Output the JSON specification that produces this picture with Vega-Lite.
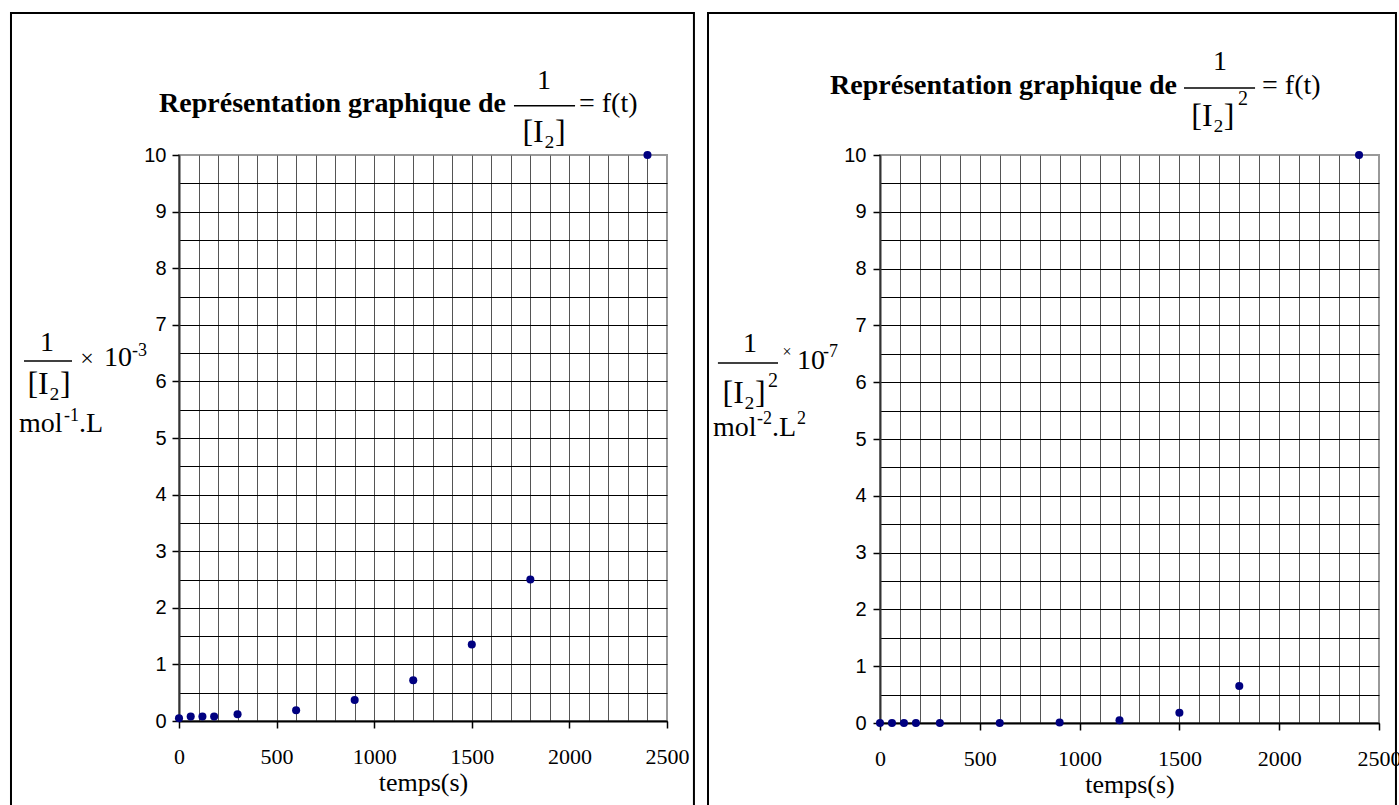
{
  "$schema": "https://vega.github.io/schema/vega-lite/v6.json",
  "padding": {"left": 8, "top": 10, "right": 0, "bottom": 0},
  "spacing": 10,
  "datasets": {
    "inv": [
      {"t": 0, "v": 0.05}, {"t": 60, "v": 0.08}, {"t": 120, "v": 0.08}, {"t": 180, "v": 0.08},
      {"t": 300, "v": 0.12}, {"t": 600, "v": 0.19}, {"t": 900, "v": 0.37}, {"t": 1200, "v": 0.72},
      {"t": 1500, "v": 1.35}, {"t": 1800, "v": 2.5}, {"t": 2400, "v": 10}
    ],
    "inv2": [
      {"t": 0, "v": 0.0}, {"t": 60, "v": 0.0}, {"t": 120, "v": 0.0}, {"t": 180, "v": 0.0},
      {"t": 300, "v": 0.0}, {"t": 600, "v": 0.0}, {"t": 900, "v": 0.01}, {"t": 1200, "v": 0.05},
      {"t": 1500, "v": 0.18}, {"t": 1800, "v": 0.65}, {"t": 2400, "v": 10}
    ]
  },
  "config": {
    "view": {"stroke": "#999999", "strokeWidth": 2},
    "axis": {"labelColor": "black", "tickColor": "black", "domainColor": "black", "domainWidth": 2, "tickWidth": 1.5, "tickSize": 7, "gridWidth": 1, "titleColor": "black", "labelOverlap": false},
    "text": {"font": "Liberation Serif", "color": "black"}
  },
  "hconcat": [
    {
      "width": 488,
      "height": 566,
      "resolve": {"axis": {"x": "independent", "y": "independent"}},
      "layer": [
        {
          "data": {"values": [{}]},
          "mark": {"type": "rect", "fillOpacity": 0, "stroke": "black", "strokeWidth": 2, "clip": false},
          "encoding": {"x": {"datum": -860.7, "type": "quantitative", "axis": null}, "x2": {"datum": 2638}, "y": {"datum": 12.509, "type": "quantitative", "axis": null}, "y2": {"datum": -1.8}}
        },
        {
          "data": {"values": [{}]},
          "mark": {"type": "text", "text": "Représentation graphique de", "fontWeight": "bold", "fontSize": 28, "align": "right", "baseline": "middle", "clip": false},
          "encoding": {"x": {"datum": 1675, "type": "quantitative", "axis": null}, "y": {"datum": 10.9, "type": "quantitative", "axis": null}}
        },
        {
          "data": {"values": [{}]},
          "mark": {"type": "text", "text": "1", "fontSize": 28, "align": "center", "baseline": "middle", "clip": false},
          "encoding": {"x": {"datum": 1870, "type": "quantitative", "axis": null}, "y": {"datum": 11.31, "type": "quantitative", "axis": null}}
        },
        {
          "data": {"values": [{}]},
          "mark": {"type": "rule", "color": "black", "strokeWidth": 1.5, "clip": false},
          "encoding": {"x": {"datum": 1716, "type": "quantitative", "axis": null}, "x2": {"datum": 2029}, "y": {"datum": 10.87, "type": "quantitative", "axis": null}}
        },
        {
          "data": {"values": [{}]},
          "mark": {"type": "text", "text": "[I₂]", "fontSize": 32, "align": "center", "baseline": "middle", "clip": false},
          "encoding": {"x": {"datum": 1870, "type": "quantitative", "axis": null}, "y": {"datum": 10.41, "type": "quantitative", "axis": null}}
        },
        {
          "data": {"values": [{}]},
          "mark": {"type": "text", "text": "= f(t)", "fontSize": 28, "align": "left", "baseline": "middle", "clip": false},
          "encoding": {"x": {"datum": 2049, "type": "quantitative", "axis": null}, "y": {"datum": 10.9, "type": "quantitative", "axis": null}}
        },
        {
          "data": {"values": [{}]},
          "mark": {"type": "text", "text": "1", "fontSize": 28, "align": "center", "baseline": "middle", "clip": false},
          "encoding": {"x": {"datum": -676, "type": "quantitative", "axis": null}, "y": {"datum": 6.68, "type": "quantitative", "axis": null}}
        },
        {
          "data": {"values": [{}]},
          "mark": {"type": "rule", "color": "black", "strokeWidth": 1.5, "clip": false},
          "encoding": {"x": {"datum": -794, "type": "quantitative", "axis": null}, "x2": {"datum": -548}, "y": {"datum": 6.36, "type": "quantitative", "axis": null}}
        },
        {
          "data": {"values": [{}]},
          "mark": {"type": "text", "text": "[I₂]", "fontSize": 32, "align": "center", "baseline": "middle", "clip": false},
          "encoding": {"x": {"datum": -666, "type": "quantitative", "axis": null}, "y": {"datum": 5.95, "type": "quantitative", "axis": null}}
        },
        {
          "data": {"values": [{}]},
          "mark": {"type": "text", "text": "×", "fontSize": 24, "align": "center", "baseline": "middle", "clip": false},
          "encoding": {"x": {"datum": -471, "type": "quantitative", "axis": null}, "y": {"datum": 6.4, "type": "quantitative", "axis": null}}
        },
        {
          "data": {"values": [{}]},
          "mark": {"type": "text", "text": "10", "fontSize": 28, "align": "left", "baseline": "middle", "clip": false},
          "encoding": {"x": {"datum": -384, "type": "quantitative", "axis": null}, "y": {"datum": 6.41, "type": "quantitative", "axis": null}}
        },
        {
          "data": {"values": [{}]},
          "mark": {"type": "text", "text": "-3", "fontSize": 18, "align": "left", "baseline": "middle", "clip": false},
          "encoding": {"x": {"datum": -241, "type": "quantitative", "axis": null}, "y": {"datum": 6.54, "type": "quantitative", "axis": null}}
        },
        {
          "data": {"values": [{}]},
          "mark": {"type": "text", "text": "mol", "fontSize": 28, "align": "left", "baseline": "middle", "clip": false},
          "encoding": {"x": {"datum": -820, "type": "quantitative", "axis": null}, "y": {"datum": 5.25, "type": "quantitative", "axis": null}}
        },
        {
          "data": {"values": [{}]},
          "mark": {"type": "text", "text": "-1", "fontSize": 18, "align": "left", "baseline": "middle", "clip": false},
          "encoding": {"x": {"datum": -589, "type": "quantitative", "axis": null}, "y": {"datum": 5.39, "type": "quantitative", "axis": null}}
        },
        {
          "data": {"values": [{}]},
          "mark": {"type": "text", "text": ".L", "fontSize": 28, "align": "left", "baseline": "middle", "clip": false},
          "encoding": {"x": {"datum": -512, "type": "quantitative", "axis": null}, "y": {"datum": 5.25, "type": "quantitative", "axis": null}}
        },
        {
          "data": {"name": "inv"},
          "mark": {"type": "circle", "color": "#000080", "size": 65, "opacity": 1, "clip": false},
          "encoding": {
            "x": {"field": "t", "type": "quantitative", "scale": {"domain": [0, 2500], "nice": false, "zero": false},
              "axis": {"orient": "bottom", "tickCount": 60, "values": [0,100,200,300,400,500,600,700,800,900,1000,1100,1200,1300,1400,1500,1600,1700,1800,1900,2000,2100,2200,2300,2400,2500],
                "format": "d", "labelExpr": "datum.value % 500 === 0 ? datum.label : ''", "labelFlush": false,
                "labelFont": "Liberation Serif", "labelFontSize": 22, "labelPadding": 18,
                "tickOpacity": {"condition": {"test": "datum.value % 500 === 0", "value": 1}, "value": 0},
                "grid": true, "gridColor": "#555555",
                "gridOpacity": {"condition": {"test": "datum.value === 2500", "value": 0}, "value": 1},
                "title": "temps(s)", "titleFont": "Liberation Serif", "titleFontSize": 26, "titleFontWeight": "normal", "titlePadding": 2}},
            "y": {"field": "v", "type": "quantitative", "scale": {"domain": [0, 10], "nice": false},
              "axis": {"orient": "left", "tickCount": 60, "tickMinStep": 0.5, "values": [0,0.5,1,1.5,2,2.5,3,3.5,4,4.5,5,5.5,6,6.5,7,7.5,8,8.5,9,9.5,10],
                "labelExpr": "datum.value % 1 === 0 ? format(datum.value, 'd') : ''",
                "labelFont": "Liberation Sans", "labelFontSize": 20, "labelPadding": 6,
                "tickOpacity": {"condition": {"test": "datum.value % 1 === 0", "value": 1}, "value": 0},
                "grid": true, "gridColor": "black",
                "gridOpacity": {"condition": {"test": "datum.value === 10", "value": 0}, "value": 1},
                "domainColor": "#333333", "title": null}}
          }
        }
      ]
    },
    {
      "width": 499,
      "height": 568,
      "resolve": {"axis": {"x": "independent", "y": "independent"}},
      "layer": [
        {
          "data": {"values": [{}]},
          "mark": {"type": "rect", "fillOpacity": 0, "stroke": "black", "strokeWidth": 2, "clip": false},
          "encoding": {"x": {"datum": -861.7, "type": "quantitative", "axis": null}, "x2": {"datum": 2585}, "y": {"datum": 12.5, "type": "quantitative", "axis": null}, "y2": {"datum": -1.8}}
        },
        {
          "data": {"values": [{}]},
          "mark": {"type": "text", "text": "Représentation graphique de", "fontWeight": "bold", "fontSize": 28, "align": "right", "baseline": "middle", "clip": false},
          "encoding": {"x": {"datum": 1488, "type": "quantitative", "axis": null}, "y": {"datum": 11.21, "type": "quantitative", "axis": null}}
        },
        {
          "data": {"values": [{}]},
          "mark": {"type": "text", "text": "1", "fontSize": 28, "align": "center", "baseline": "middle", "clip": false},
          "encoding": {"x": {"datum": 1703, "type": "quantitative", "axis": null}, "y": {"datum": 11.64, "type": "quantitative", "axis": null}}
        },
        {
          "data": {"values": [{}]},
          "mark": {"type": "rule", "color": "black", "strokeWidth": 1.5, "clip": false},
          "encoding": {"x": {"datum": 1523, "type": "quantitative", "axis": null}, "x2": {"datum": 1879}, "y": {"datum": 11.18, "type": "quantitative", "axis": null}}
        },
        {
          "data": {"values": [{}]},
          "mark": {"type": "text", "text": "[I₂]", "fontSize": 32, "align": "center", "baseline": "middle", "clip": false},
          "encoding": {"x": {"datum": 1668, "type": "quantitative", "axis": null}, "y": {"datum": 10.69, "type": "quantitative", "axis": null}}
        },
        {
          "data": {"values": [{}]},
          "mark": {"type": "text", "text": "2", "fontSize": 20, "align": "left", "baseline": "middle", "clip": false},
          "encoding": {"x": {"datum": 1794, "type": "quantitative", "axis": null}, "y": {"datum": 10.99, "type": "quantitative", "axis": null}}
        },
        {
          "data": {"values": [{}]},
          "mark": {"type": "text", "text": "= f(t)", "fontSize": 28, "align": "left", "baseline": "middle", "clip": false},
          "encoding": {"x": {"datum": 1914, "type": "quantitative", "axis": null}, "y": {"datum": 11.21, "type": "quantitative", "axis": null}}
        },
        {
          "data": {"values": [{}]},
          "mark": {"type": "text", "text": "1", "fontSize": 28, "align": "center", "baseline": "middle", "clip": false},
          "encoding": {"x": {"datum": -651, "type": "quantitative", "axis": null}, "y": {"datum": 6.67, "type": "quantitative", "axis": null}}
        },
        {
          "data": {"values": [{}]},
          "mark": {"type": "rule", "color": "black", "strokeWidth": 1.5, "clip": false},
          "encoding": {"x": {"datum": -812, "type": "quantitative", "axis": null}, "x2": {"datum": -511}, "y": {"datum": 6.34, "type": "quantitative", "axis": null}}
        },
        {
          "data": {"values": [{}]},
          "mark": {"type": "text", "text": "[I₂]", "fontSize": 32, "align": "center", "baseline": "middle", "clip": false},
          "encoding": {"x": {"datum": -681, "type": "quantitative", "axis": null}, "y": {"datum": 5.81, "type": "quantitative", "axis": null}}
        },
        {
          "data": {"values": [{}]},
          "mark": {"type": "text", "text": "2", "fontSize": 20, "align": "left", "baseline": "middle", "clip": false},
          "encoding": {"x": {"datum": -561, "type": "quantitative", "axis": null}, "y": {"datum": 6.02, "type": "quantitative", "axis": null}}
        },
        {
          "data": {"values": [{}]},
          "mark": {"type": "text", "text": "×", "fontSize": 16, "align": "center", "baseline": "middle", "clip": false},
          "encoding": {"x": {"datum": -466, "type": "quantitative", "axis": null}, "y": {"datum": 6.53, "type": "quantitative", "axis": null}}
        },
        {
          "data": {"values": [{}]},
          "mark": {"type": "text", "text": "10", "fontSize": 28, "align": "left", "baseline": "middle", "clip": false},
          "encoding": {"x": {"datum": -416, "type": "quantitative", "axis": null}, "y": {"datum": 6.37, "type": "quantitative", "axis": null}}
        },
        {
          "data": {"values": [{}]},
          "mark": {"type": "text", "text": "-7", "fontSize": 18, "align": "left", "baseline": "middle", "clip": false},
          "encoding": {"x": {"datum": -286, "type": "quantitative", "axis": null}, "y": {"datum": 6.53, "type": "quantitative", "axis": null}}
        },
        {
          "data": {"values": [{}]},
          "mark": {"type": "text", "text": "mol", "fontSize": 28, "align": "left", "baseline": "middle", "clip": false},
          "encoding": {"x": {"datum": -837, "type": "quantitative", "axis": null}, "y": {"datum": 5.19, "type": "quantitative", "axis": null}}
        },
        {
          "data": {"values": [{}]},
          "mark": {"type": "text", "text": "-2", "fontSize": 18, "align": "left", "baseline": "middle", "clip": false},
          "encoding": {"x": {"datum": -616, "type": "quantitative", "axis": null}, "y": {"datum": 5.35, "type": "quantitative", "axis": null}}
        },
        {
          "data": {"values": [{}]},
          "mark": {"type": "text", "text": ".L", "fontSize": 28, "align": "left", "baseline": "middle", "clip": false},
          "encoding": {"x": {"datum": -541, "type": "quantitative", "axis": null}, "y": {"datum": 5.19, "type": "quantitative", "axis": null}}
        },
        {
          "data": {"values": [{}]},
          "mark": {"type": "text", "text": "2", "fontSize": 18, "align": "left", "baseline": "middle", "clip": false},
          "encoding": {"x": {"datum": -416, "type": "quantitative", "axis": null}, "y": {"datum": 5.35, "type": "quantitative", "axis": null}}
        },
        {
          "data": {"name": "inv2"},
          "mark": {"type": "circle", "color": "#000080", "size": 65, "opacity": 1, "clip": false},
          "encoding": {
            "x": {"field": "t", "type": "quantitative", "scale": {"domain": [0, 2500], "nice": false, "zero": false},
              "axis": {"orient": "bottom", "tickCount": 60, "values": [0,100,200,300,400,500,600,700,800,900,1000,1100,1200,1300,1400,1500,1600,1700,1800,1900,2000,2100,2200,2300,2400,2500],
                "format": "d", "labelExpr": "datum.value % 500 === 0 ? datum.label : ''", "labelFlush": false,
                "labelFont": "Liberation Serif", "labelFontSize": 22, "labelPadding": 18,
                "tickOpacity": {"condition": {"test": "datum.value % 500 === 0", "value": 1}, "value": 0},
                "grid": true, "gridColor": "#555555",
                "gridOpacity": {"condition": {"test": "datum.value === 2500", "value": 0}, "value": 1},
                "title": "temps(s)", "titleFont": "Liberation Serif", "titleFontSize": 26, "titleFontWeight": "normal", "titlePadding": 2}},
            "y": {"field": "v", "type": "quantitative", "scale": {"domain": [0, 10], "nice": false},
              "axis": {"orient": "left", "tickCount": 60, "tickMinStep": 0.5, "values": [0,0.5,1,1.5,2,2.5,3,3.5,4,4.5,5,5.5,6,6.5,7,7.5,8,8.5,9,9.5,10],
                "labelExpr": "datum.value % 1 === 0 ? format(datum.value, 'd') : ''",
                "labelFont": "Liberation Sans", "labelFontSize": 20, "labelPadding": 7,
                "tickOpacity": {"condition": {"test": "datum.value % 1 === 0", "value": 1}, "value": 0},
                "grid": true, "gridColor": "black",
                "gridOpacity": {"condition": {"test": "datum.value === 10", "value": 0}, "value": 1},
                "domainColor": "#333333", "title": null}}
          }
        }
      ]
    }
  ]
}
